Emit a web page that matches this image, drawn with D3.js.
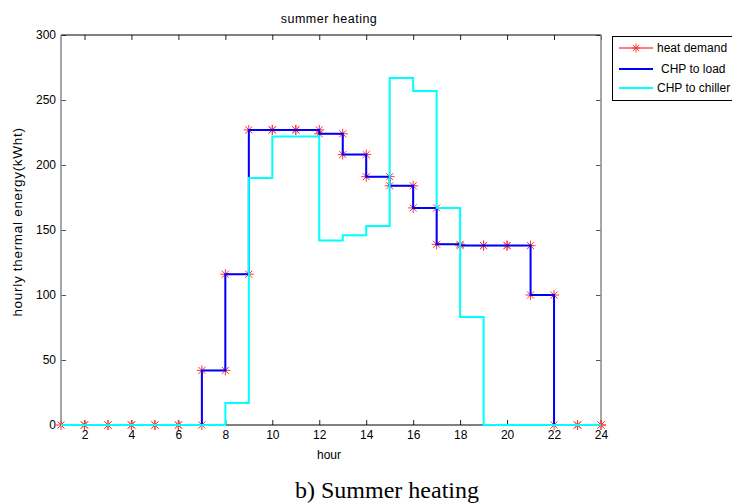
<!DOCTYPE html>
<html><head><meta charset="utf-8">
<script src="https://cdn.jsdelivr.net/npm/d3@7"></script>
<style>body{margin:0;background:#fff}svg{display:block}</style>
</head><body>
<script>
const hours = d3.range(1, 25);
const heatDemand = [0,0,0,0,0,0,42,116,227,227,227,224,208,191,184,167,139,138,138,138,100,0,0,0];
const chpToLoad  = [0,0,0,0,0,0,42,116,227,227,227,224,208,191,184,167,139,138,138,138,100,0,0,0];
const chpToChiller = [0,0,0,0,0,0,0,17,190,222,222,142,146,153,267,257,167,83,0,0,0,0,0,0];
const xTicks = d3.range(2, 25, 2);
const yTicks = d3.range(0, 301, 50);
const seriesNames = ["heat demand", "CHP to load", "CHP to chiller"];

const W = 732, H = 504;
const L = 61, R = 601, T = 35, B = 425;
const svg = d3.select("body").append("svg").attr("width", W).attr("height", H);
const font = "Liberation Sans, Arial, sans-serif";

const x = d3.scaleLinear().domain([1, 24]).range([L, R]);
const y = d3.scaleLinear().domain([0, 300]).range([B, T]);

// axes
const gx = svg.append("g").attr("transform", `translate(0,${B})`)
  .call(d3.axisBottom(x).tickValues(xTicks).tickSizeInner(-5).tickSizeOuter(0).tickPadding(5));
const gxTop = svg.append("g").attr("transform", `translate(0,${T})`)
  .call(d3.axisTop(x).tickValues(xTicks).tickSizeInner(-5).tickSizeOuter(0).tickFormat(""));
const gy = svg.append("g").attr("transform", `translate(${L},0)`)
  .call(d3.axisLeft(y).tickValues(yTicks).tickSizeInner(-5).tickSizeOuter(0).tickPadding(5));
const gyR = svg.append("g").attr("transform", `translate(${R},0)`)
  .call(d3.axisRight(y).tickValues(yTicks).tickSizeInner(-5).tickSizeOuter(0).tickFormat(""));
[gx, gxTop, gy, gyR].forEach(g => {
  g.select(".domain").remove();
  g.selectAll("text").attr("font-family", font).attr("font-size", 12).attr("fill", "#000");
});
gx.selectAll("line").attr("stroke", "#222");
gxTop.selectAll("line").attr("stroke", "#222");
gy.selectAll("line").attr("stroke", "#555");
gyR.selectAll("line").attr("stroke", "#555");

// frame
svg.append("line").attr("x1", L).attr("x2", R).attr("y1", T).attr("y2", T).attr("stroke", "#000");
svg.append("line").attr("x1", L).attr("x2", R).attr("y1", B).attr("y2", B).attr("stroke", "#000");
svg.append("line").attr("x1", L).attr("x2", L).attr("y1", T).attr("y2", B).attr("stroke", "#888").attr("stroke-width", 1.5);
svg.append("line").attr("x1", R).attr("x2", R).attr("y1", T).attr("y2", B).attr("stroke", "#888").attr("stroke-width", 1.5);

const stairs = d3.line().x(d => x(d[0])).y(d => y(d[1])).curve(d3.curveStepAfter);
const pts = arr => hours.map((h, i) => [h, arr[i]]);

// heat demand (red stairs + asterisks)
svg.append("path").attr("d", stairs(pts(heatDemand))).attr("fill", "none").attr("stroke", "#ff0000").attr("stroke-width", 1);
const verts = [];
hours.forEach((h, i) => {
  if (i > 0) verts.push([h, heatDemand[i - 1]]);
  verts.push([h, heatDemand[i]]);
});
function asterisk(g, cx, cy, r) {
  const d = r * 0.707;
  g.append("path")
    .attr("d", `M${cx - r},${cy}H${cx + r}M${cx},${cy - r}V${cy + r}M${cx - d},${cy - d}L${cx + d},${cy + d}M${cx - d},${cy + d}L${cx + d},${cy - d}`)
    .attr("stroke", "#ff3333").attr("stroke-width", 1).attr("fill", "none");
}
const mk = svg.append("g");
verts.forEach(v => asterisk(mk, x(v[0]), y(v[1]), 5));

// CHP to load
svg.append("path").attr("d", stairs(pts(chpToLoad))).attr("fill", "none").attr("stroke", "#0000ff").attr("stroke-width", 2);
// CHP to chiller
svg.append("path").attr("d", stairs(pts(chpToChiller))).attr("fill", "none").attr("stroke", "#00ffff").attr("stroke-width", 2);

// title & labels
svg.append("text").attr("x", 329).attr("y", 23).attr("text-anchor", "middle")
  .attr("font-family", font).attr("font-size", 12.5).attr("letter-spacing", 0.5).text("summer heating");
svg.append("text").attr("x", 329).attr("y", 459).attr("text-anchor", "middle")
  .attr("font-family", font).attr("font-size", 12).text("hour");
svg.append("text").attr("transform", `translate(22,222) rotate(-90)`).attr("text-anchor", "middle")
  .attr("font-family", font).attr("font-size", 13.5).attr("letter-spacing", 0.7).text("hourly thermal energy(kWht)");
svg.append("text").attr("x", 387).attr("y", 498).attr("text-anchor", "middle")
  .attr("font-family", "Liberation Serif, Times New Roman, serif").attr("font-size", 24).text("b) Summer heating");

// legend
const lg = svg.append("g");
lg.append("rect").attr("x", 612.5).attr("y", 36.5).attr("width", 130).attr("height", 64)
  .attr("fill", "#fff").attr("stroke", "#000");
const legY = [48, 69, 88];
const legColors = ["#ff0000", "#0000ff", "#00ffff"];
const legTextX = [657, 661, 657];
seriesNames.forEach((name, i) => {
  lg.append("line").attr("x1", 619).attr("x2", 653).attr("y1", legY[i]).attr("y2", legY[i])
    .attr("stroke", legColors[i]).attr("stroke-width", i === 0 ? 1 : 2);
  if (i === 0) asterisk(lg, 636, legY[i], 4.5);
  lg.append("text").attr("x", legTextX[i]).attr("y", legY[i] + 4).attr("font-family", font)
    .attr("font-size", 12).text(name);
});
</script>
</body></html>
